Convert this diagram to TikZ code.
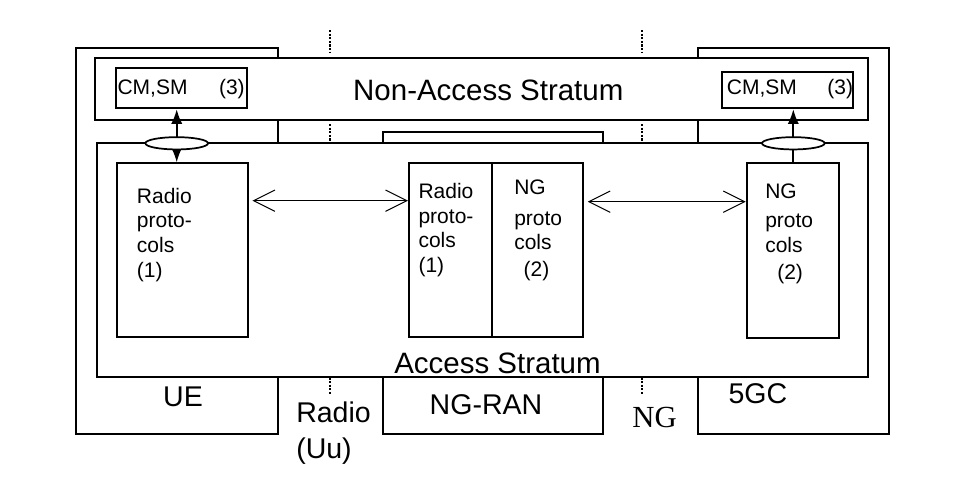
\documentclass[tikz,border=0pt]{standalone}
\usepackage{fontspec}
\setmainfont{Liberation Sans}
\newfontfamily\serifng{Liberation Serif}
\usetikzlibrary{arrows.meta,fit,shapes.geometric}
\begin{document}
\begin{tikzpicture}[x=0.75pt,y=-0.75pt,
  box/.style={draw,line width=1.5pt,inner sep=0pt},
  wbox/.style={box,fill=white},
  dotln/.style={line width=1.5pt,dash pattern=on 1.6pt off 1.1pt},
  ell/.style={ellipse,draw,fill=white,line width=1.3pt,inner sep=0pt,minimum width=47pt,minimum height=9.2pt},
  vtip/.style={line width=1.3pt},
  harrow/.style={line width=0.75pt,{Straight Barb[length=16pt,width=16pt,line width=0.75pt]}-{Straight Barb[length=16pt,width=16pt,line width=0.75pt]}},
  bigtxt/.style={font=\fontsize{22.1}{26}\selectfont,inner sep=0pt},
  lbltxt/.style={font=\fontsize{21.4}{26.3}\selectfont,inner sep=0pt},
  smtxt/.style={font=\fontsize{15.75}{18.4}\selectfont,inner sep=0pt,align=left}]
\useasboundingbox (0,0) rectangle (959,489);
% outer entity boxes
\node[box,fit={(75.7,47.7) (278.3,434)}] (ue) {};
\node[box,fit={(697.7,47.7) (889.3,434)}] (cn) {};
\node[box,fit={(382.7,131.7) (602.7,434)}] (ran) {};
% strata
\node[wbox,fit={(95,58.3) (868.3,120)}] (nas) {};
\node[wbox,fit={(96.7,143.3) (868.3,376.7)}] (as) {};
% inner boxes
\node[box,fit={(115.7,68.3) (247.3,108.3)}] (cm1) {};
\node[box,fit={(721.7,71.7) (852.7,108.3)}] (cm2) {};
\node[box,fit={(116.7,163.3) (248,336.7)}] (rue) {};
\node[box,fit={(409,162.7) (583.3,336.7)}] (mid) {};
\node[box,fit={(746.7,163.3) (839.3,337.5)}] (ngr) {};
\coordinate (dv) at (492.3,0);
\draw[line width=1.5pt] (mid.north -| dv) -- (mid.south -| dv);
% dotted interface lines
\coordinate (d1a) at (330,30);  \coordinate (d1b) at (330,53);
\coordinate (d1c) at (330,124); \coordinate (d1d) at (330,143);
\coordinate (d1e) at (330,377.5); \coordinate (d1f) at (330,395);
\coordinate (d2a) at (641.7,30);  \coordinate (d2b) at (641.7,53);
\coordinate (d2c) at (641.7,124); \coordinate (d2d) at (641.7,143);
\coordinate (d2e) at (641.7,377.5); \coordinate (d2f) at (641.7,394);
\draw[dotln] (d1a) -- (d1b) (d1c) -- (d1d) (d1e) -- (d1f);
\draw[dotln] (d2a) -- (d2b) (d2c) -- (d2d) (d2e) -- (d2f);
% vertical connectors with SAP ellipses
\coordinate (e1) at (176.7,143.3);
\coordinate (e2) at (793.3,143.3);
\draw[vtip,{Latex[length=11pt,width=8.5pt]}-{Latex[length=11pt,width=8.5pt]}] (cm1.south -| e1) -- (rue.north -| e1);
\draw[vtip,-{Latex[length=11pt,width=8.5pt]}] (ngr.north -| e2) -- (cm2.south -| e2);
\node[ell] (sap1) at (e1) {};
\node[ell] (sap2) at (e2) {};
% horizontal peer arrows
\coordinate (hy1) at (0,200.7);
\coordinate (hy2) at (0,201.7);
\draw[harrow] ([xshift=2.6pt]rue.east |- hy1) -- (mid.west |- hy1);
\draw[harrow] ([xshift=2.6pt]mid.east |- hy2) -- (ngr.west |- hy2);
% texts
\node[bigtxt,anchor=base] (tnas) at (488.3,100) {Non-Access Stratum};
\node[bigtxt,anchor=base] (tas) at (497.5,373.3) {Access Stratum};
\node[smtxt,anchor=base west] (tcm1) at (117.3,94) {CM,SM};
\node[smtxt,anchor=base east] (tn1) at (245,94) {(3)};
\node[smtxt,anchor=base west] (tcm2) at (726.7,94) {CM,SM};
\node[smtxt,anchor=base east] (tn2) at (853.3,94) {(3)};
\node[smtxt,anchor=base west] (true) at (136.7,277) {Radio\\proto-\\cols\\(1)};
\node[smtxt,anchor=base west] (trmid) at (418.3,272.5) {Radio\\proto-\\cols\\(1)};
\node[smtxt,anchor=base west] (tngmid) at (514,276) {NG\\[4.7pt]proto\\cols\\[1.2pt]\hspace*{7pt}(2)};
\node[smtxt,anchor=base west] (tngr) at (765,279) {NG\\[4pt]proto\\cols\\[1.5pt]\hspace*{9pt}(2)};
\node[lbltxt,anchor=base] (tue) at (183,406) {UE};
\node[lbltxt,anchor=base west,align=left] (tuu) at (296,458) {Radio\\(Uu)};
\node[lbltxt,anchor=base] (tran) at (486,414) {NG-RAN};
\node[anchor=base,inner sep=0pt,font=\serifng\fontsize{23}{26}\selectfont] (tng) at (654.5,427.7) {NG};
\node[lbltxt,anchor=base west] (tcn) at (728.3,403.3) {5GC};
\end{tikzpicture}
\end{document}
